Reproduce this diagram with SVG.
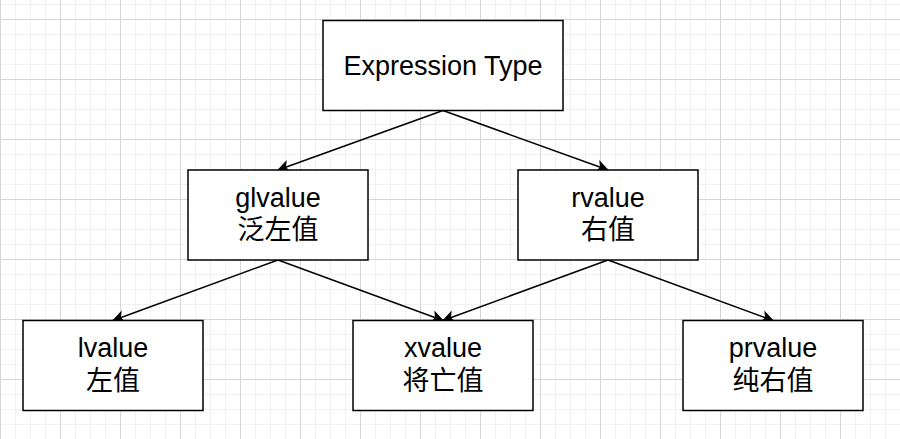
<svg xmlns="http://www.w3.org/2000/svg" width="900" height="439" viewBox="0 0 900 439">
<style>
.box{fill:#fff;stroke:#000;stroke-width:1.5}
.lbl{font-family:"Liberation Sans","Noto Sans CJK SC",sans-serif;font-size:27px;fill:#000;text-anchor:middle}
.edge{fill:none;stroke:#000;stroke-width:1.5}
</style>
<defs>
<pattern id="minor" width="15" height="15" patternUnits="userSpaceOnUse" x="0" y="4">
<rect x="0" y="0" width="1" height="15" fill="#f1f1f1"/>
<rect x="0" y="0" width="15" height="1" fill="#f1f1f1"/>
</pattern>
<pattern id="major" width="60" height="60" patternUnits="userSpaceOnUse" x="0" y="19">
<rect x="0" y="0" width="1" height="60" fill="#d6d6d6"/>
<rect x="0" y="0" width="60" height="1" fill="#d6d6d6"/>
</pattern>
<marker id="arr" markerWidth="14" markerHeight="14" refX="12" refY="7" orient="auto" markerUnits="userSpaceOnUse" viewBox="0 0 14 14">
<path d="M12,7 L1.5,1.75 L4.1,7 L1.5,12.25 Z" fill="#000" stroke="#000" stroke-width="1"/>
</marker>
</defs>
<rect width="900" height="439" fill="#fff"/>
<rect width="900" height="439" fill="url(#minor)"/>
<rect width="900" height="439" fill="url(#major)"/>
<g id="connectors">
<path class="edge" d="M443,110.5 L278,170" marker-end="url(#arr)"/>
<path class="edge" d="M443,110.5 L608,170" marker-end="url(#arr)"/>
<path class="edge" d="M278,260 L113,320.5" marker-end="url(#arr)"/>
<path class="edge" d="M278,260 L443,320.5" marker-end="url(#arr)"/>
<path class="edge" d="M608,260 L443,320.5" marker-end="url(#arr)"/>
<path class="edge" d="M608,260 L773,320.5" marker-end="url(#arr)"/>
</g>
<g id="expression-type">
<rect class="box" x="323" y="20.5" width="240" height="90"/>
<text class="lbl" x="443" y="74.5">Expression Type</text>
</g>
<g id="glvalue">
<rect class="box" x="188" y="170" width="180" height="90"/>
<text class="lbl" x="278" y="206.5">glvalue</text>
<text class="lbl" x="278" y="239">泛左值</text>
</g>
<g id="rvalue">
<rect class="box" x="518" y="170" width="180" height="90"/>
<text class="lbl" x="608" y="206.5">rvalue</text>
<text class="lbl" x="608" y="239">右值</text>
</g>
<g id="lvalue">
<rect class="box" x="23" y="320.5" width="180" height="90"/>
<text class="lbl" x="113" y="357">lvalue</text>
<text class="lbl" x="113" y="389.5">左值</text>
</g>
<g id="xvalue">
<rect class="box" x="353" y="320.5" width="180" height="90"/>
<text class="lbl" x="443" y="357">xvalue</text>
<text class="lbl" x="443" y="389.5">将亡值</text>
</g>
<g id="prvalue">
<rect class="box" x="683" y="320.5" width="180" height="90"/>
<text class="lbl" x="773" y="357">prvalue</text>
<text class="lbl" x="773" y="389.5">纯右值</text>
</g>
</svg>
